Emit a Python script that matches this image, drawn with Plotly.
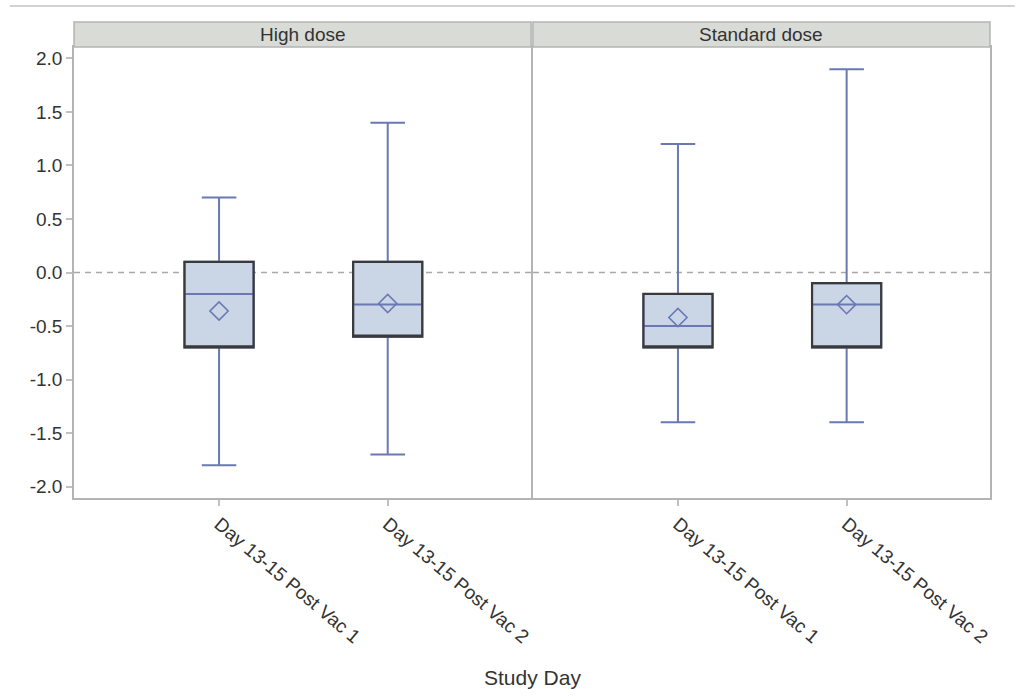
import plotly.graph_objects as go
from plotly.subplots import make_subplots

# Categories on the x axis of each panel
categories = ["Day 13-15 Post Vac 1", "Day 13-15 Post Vac 2"]
panel_titles = ["High dose", "Standard dose"]

# High dose box statistics
hd_lower = [-1.8, -1.7]
hd_q1 = [-0.7, -0.6]
hd_median = [-0.2, -0.3]
hd_q3 = [0.1, 0.1]
hd_upper = [0.7, 1.4]
hd_mean = [-0.36, -0.29]

# Standard dose box statistics
sd_lower = [-1.4, -1.4]
sd_q1 = [-0.7, -0.7]
sd_median = [-0.5, -0.3]
sd_q3 = [-0.2, -0.1]
sd_upper = [1.2, 1.9]
sd_mean = [-0.42, -0.30]

y_ticks = [-2.0, -1.5, -1.0, -0.5, 0.0, 0.5, 1.0, 1.5, 2.0]

FONT = "Liberation Sans, Arial, sans-serif"
TEXT = "#333333"
BLUE = "#6a79b4"
FILL = "#cad5e6"
DARK = "#3a3a3a"
FRAME = "#b4b4b4"

fig = make_subplots(rows=1, cols=2, shared_yaxes=True, horizontal_spacing=0.002)

panels = [
    (hd_lower, hd_q1, hd_median, hd_q3, hd_upper, hd_mean),
    (sd_lower, sd_q1, sd_median, sd_q3, sd_upper, sd_mean),
]

for col, (lo, q1, med, q3, up, mean) in enumerate(panels, start=1):
    # whiskers, caps, median and filled box in blue
    fig.add_trace(go.Box(
        x=categories, q1=q1, median=med, q3=q3, lowerfence=lo, upperfence=up,
        width=0.41, whiskerwidth=0.5, fillcolor=FILL,
        line=dict(color=BLUE, width=2), boxpoints=False, hoverinfo="skip",
        showlegend=False,
    ), row=1, col=col)
    # dark outline of the interquartile box drawn on top
    fig.add_trace(go.Box(
        x=categories, q1=q1, median=q1, q3=q3, lowerfence=q1, upperfence=q3,
        width=0.41, whiskerwidth=0, fillcolor="rgba(0,0,0,0)",
        line=dict(color=DARK, width=2.2), boxpoints=False, hoverinfo="skip",
        showlegend=False,
    ), row=1, col=col)
    # mean markers
    fig.add_trace(go.Scatter(
        x=categories, y=mean, mode="markers",
        marker=dict(symbol="diamond-open", size=14, color=BLUE,
                    line=dict(color=BLUE, width=1.6)),
        showlegend=False, hoverinfo="skip",
    ), row=1, col=col)

axis_common = dict(
    showline=True, linecolor=FRAME, linewidth=1.5, mirror=True,
    showgrid=False, zeroline=False,
    ticks="outside", ticklen=6, tickcolor="#c0c0c0", tickwidth=1.5,
    tickfont=dict(family=FONT, size=19, color=TEXT),
)

for ax in ("xaxis", "xaxis2"):
    fig.layout[ax].update(axis_common)
    fig.layout[ax].update(type="category", range=[-0.86, 1.85],
                          tickangle=40, categoryorder="array",
                          categoryarray=categories)
fig.layout.xaxis.domain = [0, 0.499]
fig.layout.xaxis2.domain = [0.501, 1]

for ax in ("yaxis", "yaxis2"):
    fig.layout[ax].update(axis_common)
    fig.layout[ax].update(range=[-2.107, 2.107], tickvals=y_ticks,
                          ticktext=[f"{v:.1f}" for v in y_ticks])
fig.layout.yaxis2.update(ticks="", showticklabels=False)

header_h = 25 / 451
for xr, title in zip(("x domain", "x2 domain"), panel_titles):
    # zero reference line
    fig.add_shape(type="line", xref=xr, yref="y", x0=0, x1=1, y0=0, y1=0,
                  line=dict(color="#a8a8a8", width=1.5, dash="6px,5px"),
                  layer="below")
    # panel header strip
    fig.add_shape(type="rect", xref=xr, yref="paper", x0=0, x1=1,
                  y0=1, y1=1 + header_h, fillcolor="#d9dbd6",
                  line=dict(color=FRAME, width=1.5))
    fig.add_annotation(xref=xr, yref="paper", x=0.5, y=1 + header_h / 2,
                       xanchor="center", yanchor="middle",
                       text=title, showarrow=False,
                       font=dict(family=FONT, size=19, color=TEXT))

# thin rule across the top of the graphic
fig.add_shape(type="line", xref="paper", yref="paper", x0=-0.07, x1=1.027,
              y0=1.091, y1=1.091, line=dict(color="#d2d2d2", width=2))

fig.add_annotation(xref="paper", yref="paper", x=0.5, y=-0.397,
                   xanchor="center", yanchor="middle",
                   text="Study Day", showarrow=False,
                   font=dict(family=FONT, size=21, color=TEXT))

fig.update_layout(
    width=1019, height=700,
    margin=dict(l=74, r=29, t=47, b=202),
    paper_bgcolor="white", plot_bgcolor="white",
    boxmode="overlay",
    font=dict(family=FONT, color=TEXT),
)

fig.write_html("out.html")
